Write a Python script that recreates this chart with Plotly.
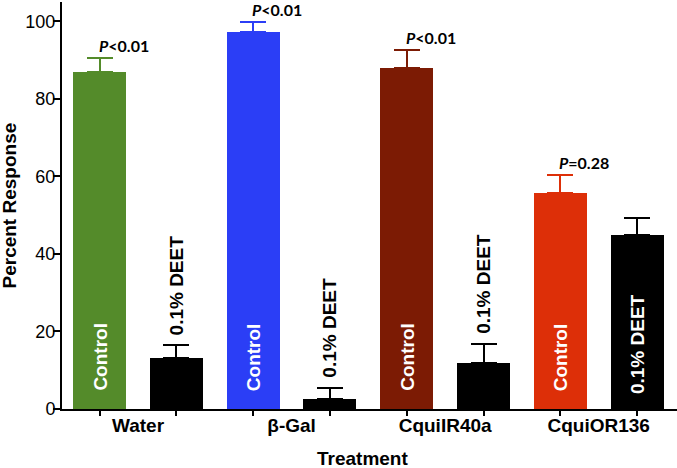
import plotly.graph_objects as go

groups = ["Water", "β-Gal", "CquiIR40a", "CquiOR136"]
control_means = [87.0, 97.2, 88.0, 55.8]
control_err = [3.6, 2.7, 4.6, 4.5]
deet_means = [13.1, 2.7, 11.9, 44.8]
deet_err = [3.4, 2.8, 4.8, 4.5]
p_labels = ["<i>P</i>&lt;0.01", "<i>P</i>&lt;0.01", "<i>P</i>&lt;0.01", "<i>P</i>=0.28"]
control_colors = ["#548b2a", "#2b3ef6", "#7c1b04", "#dd2f08"]
deet_color = "#000000"
bar_label_control = "Control"
bar_label_deet = "0.1% DEET"
deet_label_inside = [False, False, False, True]
y_ticks = [0, 20, 40, 60, 80, 100]

fig = go.Figure()
W = 0.69
ctrl_x = [2 * i for i in range(len(groups))]
deet_x = [2 * i + 1 for i in range(len(groups))]

for i, g in enumerate(groups):
    fig.add_trace(go.Bar(
        x=[ctrl_x[i]], y=[control_means[i]], width=W,
        marker=dict(color=control_colors[i], line=dict(width=0)),
        error_y=dict(type="data", symmetric=False, array=[control_err[i]], arrayminus=[0],
                     color=control_colors[i], thickness=2, width=13),
        showlegend=False, hoverinfo="skip"))
fig.add_trace(go.Bar(
    x=deet_x, y=deet_means, width=W,
    marker=dict(color=deet_color, line=dict(width=0)),
    error_y=dict(type="data", symmetric=False, array=deet_err, arrayminus=[0] * len(groups),
                 color=deet_color, thickness=2, width=13),
    showlegend=False, hoverinfo="skip"))

FAM = "Liberation Sans, Arial, sans-serif"
LBL = dict(family=FAM, size=19, color="black")

for i in range(len(groups)):
    fig.add_annotation(x=ctrl_x[i], y=0, text="<b>" + bar_label_control + "</b>", textangle=-90,
                       showarrow=False, xanchor="center", yanchor="bottom", yshift=16,
                       font=dict(LBL, color="white"))
    if deet_label_inside[i]:
        fig.add_annotation(x=deet_x[i], y=0, text="<b>" + bar_label_deet + "</b>", textangle=-90,
                           showarrow=False, xanchor="center", yanchor="bottom", yshift=13,
                           font=dict(LBL, color="white"))
    else:
        fig.add_annotation(x=deet_x[i], y=deet_means[i] + deet_err[i], text="<b>" + bar_label_deet + "</b>",
                           textangle=-90, showarrow=False, xanchor="center", yanchor="bottom", yshift=8,
                           font=LBL)
    fig.add_annotation(x=ctrl_x[i], y=control_means[i] + control_err[i], text="<b>" + p_labels[i] + "</b>",
                       showarrow=False, xanchor="left", yanchor="bottom", xshift=-3, yshift=1,
                       font=dict(family="Lato, sans-serif", size=16, color="black"))

# axis titles
fig.add_annotation(xref="paper", yref="paper", x=0, y=0.5, xshift=-53, text="<b>Percent Response</b>",
                   textangle=-90, showarrow=False, xanchor="center", yanchor="middle", font=LBL)
fig.add_annotation(xref="paper", yref="paper", x=0.489, y=0, yshift=-49, text="<b>Treatment</b>",
                   showarrow=False, xanchor="center", yanchor="middle", font=LBL)

fig.update_layout(
    width=677, height=468,
    margin=dict(l=62, r=0, t=2, b=59),
    plot_bgcolor="white", paper_bgcolor="white",
    bargap=0,
    xaxis=dict(range=[-0.49, 7.52], tickvals=[0.5, 2.5, 4.5, 6.5], ticktext=["<b>" + g + "</b>" for g in groups],
               ticks="", showline=True, linecolor="black", linewidth=2, showgrid=False, zeroline=False,
               tickfont=LBL, automargin=False, ticklabelstandoff=-2),
    xaxis2=dict(range=[-0.49, 7.52], overlaying="x", side="bottom", tickvals=ctrl_x + deet_x,
                ticktext=[""] * 8, ticks="outside", ticklen=6, tickwidth=2, tickcolor="black",
                showgrid=False, zeroline=False, showline=False, automargin=False),
    yaxis=dict(range=[0, 105], tickvals=y_ticks, ticks="outside", ticklen=7, tickwidth=2,
               tickcolor="black", showline=True, linecolor="black", linewidth=2, showgrid=False, zeroline=False,
               tickfont=dict(family=FAM, size=18, color="black"), automargin=False, ticklabelstandoff=-6),
)
fig.add_trace(go.Scatter(x=[0], y=[0], xaxis="x2", mode="markers", marker=dict(opacity=0),
                         showlegend=False, hoverinfo="skip"))

fig.write_html("out.html", config={"displayModeBar": False},
               post_script="document.body.style.margin='0';")
